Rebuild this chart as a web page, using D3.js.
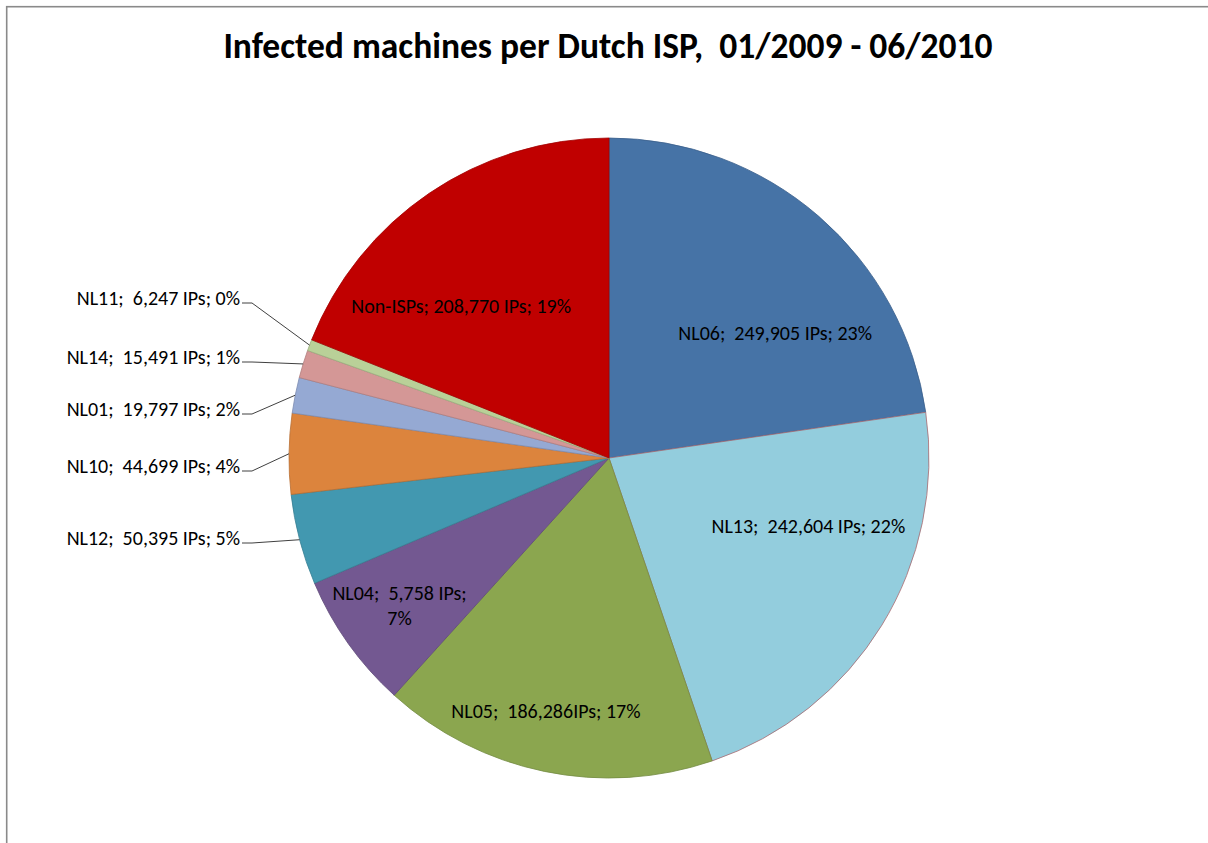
<!DOCTYPE html>
<html>
<head>
<meta charset="utf-8">
<script src="https://cdn.jsdelivr.net/npm/d3@7"></script>
<style>
  html, body { margin: 0; padding: 0; background: #fff; overflow: hidden; }
  svg { display: block; font-family: Carlito, Lato, "Open Sans", sans-serif; }
  svg text { white-space: pre; }
</style>
</head>
<body>
<svg id="chart" width="1208" height="843"></svg>
<script>
// ISP codes, in clockwise order from 12 o'clock
const providers = ["NL06", "NL13", "NL05", "NL04", "NL12", "NL10", "NL01", "NL14", "NL11", "Non-ISPs"];
// infected IP addresses per provider
const infectedIPs = [249905, 242604, 186286, 75758, 50395, 44699, 19797, 15491, 6247, 208770];
// label texts as printed on the chart
const labelTexts = [
  ["NL06;  249,905 IPs; 23%"],
  ["NL13;  242,604 IPs; 22%"],
  ["NL05;  186,286IPs; 17%"],
  ["NL04;  5,758 IPs;", "7%"],
  ["NL12;  50,395 IPs; 5%"],
  ["NL10;  44,699 IPs; 4%"],
  ["NL01;  19,797 IPs; 2%"],
  ["NL14;  15,491 IPs; 1%"],
  ["NL11;  6,247 IPs; 0%"],
  ["Non-ISPs; 208,770 IPs; 19%"]
];
const sliceColors = ["#4673a6", "#93cddd", "#8ba64f", "#735891", "#4298b0", "#dc843d", "#95a9d3", "#d49796", "#b9d098", "#c00000"];
const titleText = "Infected machines per Dutch ISP,  01/2009 - 06/2010";

// layout
const W = 1208, H = 843;
const cx = 609, cy = 458, R = 320;
// which labels sit outside with a leader line
const outsideSet = new Set(["NL12", "NL10", "NL01", "NL14", "NL11"]);
// outside label rows (text centre y) and right edge of text
const outsideRowY = {NL11: 298, NL14: 357, NL01: 409, NL10: 466, NL12: 538};
const outsideTextRight = 240;
// small offsets of inside labels from the slice centroid
const insideNudge = {
  "NL06": [30, 32], "NL13": [22, -41], "NL05": [-21, 49],
  "NL04": [-40, 27], "Non-ISPs": [-31, 20]
};

const svg = d3.select("#chart");

// chart frame
svg.append("rect")
  .attr("x", 6.7).attr("y", 6.7)
  .attr("width", W + 20).attr("height", H + 20)
  .attr("fill", "#fff")
  .attr("stroke", "#8a8a8a").attr("stroke-width", 1.6);

// title
svg.append("text")
  .attr("x", 608).attr("y", 58)
  .attr("text-anchor", "middle")
  .attr("font-size", 35.5).attr("font-weight", "bold")
  .attr("fill", "#000")
  .text(titleText);

const rows = providers.map((p, i) => ({name: p, value: infectedIPs[i], lines: labelTexts[i], color: sliceColors[i]}));

const pie = d3.pie().value(d => d.value).sort(null).startAngle(0).endAngle(2 * Math.PI);
const arcs = pie(rows);
const arc = d3.arc().innerRadius(0).outerRadius(R);
const labelArc = d3.arc().innerRadius(R * 0.65).outerRadius(R * 0.65);

const g = svg.append("g").attr("transform", `translate(${cx},${cy})`);

g.selectAll("path.slice")
  .data(arcs)
  .join("path")
  .attr("class", "slice")
  .attr("d", arc)
  .attr("fill", d => d.data.color)
  .attr("stroke", d => d.data.name === "NL13" ? "#a86a70" : d3.color(d.data.color).darker(0.5))
  .attr("stroke-width", 0.8)
  .attr("stroke-linejoin", "round");

const fontSize = 20;

// inside labels
arcs.filter(d => !outsideSet.has(d.data.name)).forEach(d => {
  const [x0, y0] = labelArc.centroid(d);
  const nud = insideNudge[d.data.name] || [0, 0];
  const x = x0 + nud[0], y = y0 + nud[1];
  const n = d.data.lines.length;
  const lh = 25;
  const t = g.append("text")
    .attr("text-anchor", "middle")
    .attr("font-size", fontSize)
    .attr("fill", "#000");
  d.data.lines.forEach((line, k) => {
    t.append("tspan")
      .attr("x", x)
      .attr("y", y + (k - (n - 1) / 2) * lh)
      .attr("dy", "0.35em")
      .text(line);
  });
});

// outside labels with leader lines
arcs.filter(d => outsideSet.has(d.data.name)).forEach(d => {
  const mid = (d.startAngle + d.endAngle) / 2;
  const ex = R * Math.sin(mid), ey = -R * Math.cos(mid);
  const rowY = outsideRowY[d.data.name] - cy;
  const textRight = outsideTextRight - cx;
  const leadY = rowY + 5;
  g.append("polyline")
    .attr("points", [[textRight + 2, leadY], [textRight + 12, leadY], [ex, ey]].map(p => p.join(",")).join(" "))
    .attr("fill", "none")
    .attr("stroke", "#404040")
    .attr("stroke-width", 1);
  g.append("text")
    .attr("x", textRight).attr("y", rowY)
    .attr("dy", "0.35em")
    .attr("text-anchor", "end")
    .attr("font-size", fontSize)
    .attr("fill", "#000")
    .text(d.data.lines[0]);
});
</script>
</body>
</html>
